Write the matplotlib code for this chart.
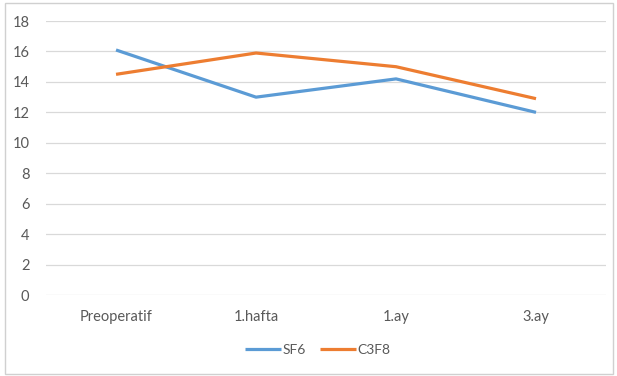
import matplotlib.pyplot as plt
from matplotlib.patches import Rectangle

categories = ['Preoperatif', '1.hafta', '1.ay', '3.ay']
sf6 = [16.1, 13.0, 14.2, 12.0]
c3f8 = [14.5, 15.9, 15.0, 12.9]

plt.rcParams['font.family'] = ['Lato', 'DejaVu Sans']

fig = plt.figure(figsize=(6.17, 3.76), dpi=100)
ax = fig.add_axes([0.0746, 0.2154, 0.9076, 0.7286])

x = range(len(categories))
ax.plot(x, sf6, color='#5B9BD5', lw=2.3, label='SF6', solid_capstyle='butt')
ax.plot(x, c3f8, color='#ED7D31', lw=2.3, label='C3F8', solid_capstyle='butt')

ax.set_xlim(-0.5, len(categories) - 0.5)
ax.set_ylim(0, 18)
ax.set_yticks(range(0, 19, 2))
ax.set_xticks(list(x))
ax.set_xticklabels(categories)
ax.grid(axis='y', color='#d9d9d9', lw=0.9)
ax.set_axisbelow(True)
for s in ax.spines.values():
    s.set_visible(False)
ax.tick_params(length=0, colors='#595959', labelsize=10.5)
ax.tick_params(axis='x', pad=11)
ax.tick_params(axis='y', pad=12)

leg = fig.legend(loc='center', bbox_to_anchor=(0.515, 0.07), ncol=2, frameon=False,
                 fontsize=10, handlelength=2.6, handletextpad=0.1, columnspacing=1.0)
for t in leg.get_texts():
    t.set_color('#595959')

# light frame around the whole chart
fig.patches.append(Rectangle((0.008, 0.006), 0.985, 0.986, transform=fig.transFigure,
                             fill=False, edgecolor='#d0d0d0', lw=1.0))

fig.savefig('out.png', dpi=100)
